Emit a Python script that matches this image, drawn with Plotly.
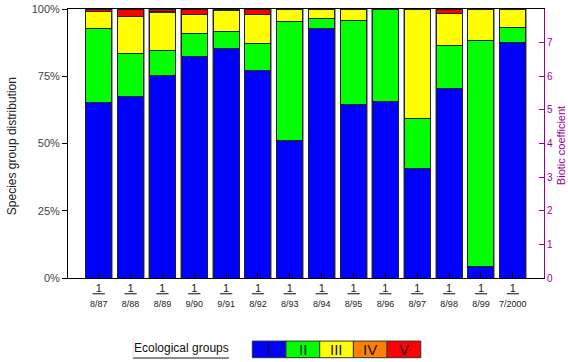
import plotly.graph_objects as go

dates = ["8/87", "8/88", "8/89", "9/90", "9/91", "8/92", "8/93", "8/94",
         "8/95", "8/96", "8/97", "8/98", "8/99", "7/2000"]
group_names = ["I", "II", "III", "IV", "V"]
group_colors = ["#0000FF", "#00FF00", "#FFFF00", "#FF8000", "#FF0000"]

g1 = [65.1, 67.4, 75.3, 82.4, 85.2, 77.3, 51.2, 92.7, 64.6, 65.5, 40.6, 70.6, 4.2, 87.6]
g2 = [27.6, 15.9, 9.4, 8.4, 6.6, 9.9, 44.2, 3.8, 31.3, 34.5, 18.6, 15.7, 84.1, 5.6]
g3 = [6.3, 13.8, 13.9, 7.3, 7.5, 10.6, 4.6, 3.5, 4.1, 0.0, 40.8, 12.1, 11.7, 6.8]
g4 = [0.0, 0.0, 0.4, 0.0, 0.7, 0.0, 0.0, 0.0, 0.0, 0.0, 0.0, 0.0, 0.0, 0.0]
g5 = [1.0, 2.9, 1.0, 1.9, 0.0, 2.2, 0.0, 0.0, 0.0, 0.0, 0.0, 1.6, 0.0, 0.0]
groups = [g1, g2, g3, g4, g5]

biotic = [0.69, 0.85, 0.63, 0.47, 0.37, 0.60, 0.83, 0.19, 0.60, 0.54, 1.51, 0.69, 1.60, 0.32]

x = list(range(len(dates)))
totals = [sum(v) for v in zip(*groups)]
ticktext = ["<u>&nbsp;1&nbsp;</u><br><span style='font-size:9px'>%s</span>" % d for d in dates]

fig = go.Figure()

# shadow bars behind
fig.add_trace(go.Bar(x=x, y=totals, width=0.88, marker=dict(color="#9a9a9a", line=dict(width=0)),
                     xaxis="x", yaxis="y", showlegend=False, hoverinfo="skip"))

for name, col, vals in zip(group_names, group_colors, groups):
    fig.add_trace(go.Bar(x=x, y=vals, name=name, width=0.816,
                         marker=dict(color=col, line=dict(color="#222222", width=1)),
                         xaxis="x", yaxis="y3", showlegend=False))

fig.add_trace(go.Scatter(x=x, y=biotic, mode="markers",
                         marker=dict(color="#7a0a7a", size=9.5, line=dict(color="#111111", width=1)),
                         xaxis="x", yaxis="y2", showlegend=False))

font_family = "Liberation Sans, Arial, sans-serif"

fig.update_layout(
    width=568, height=362,
    margin=dict(l=68, r=24, t=9, b=84.3),
    paper_bgcolor="white", plot_bgcolor="white",
    barmode="stack",
    font=dict(family=font_family, color="#333333"),
    xaxis=dict(range=[-0.964, 13.978], tickmode="array", tickvals=x, ticktext=ticktext,
               ticks="inside", ticklen=6, tickcolor="black", showgrid=False, zeroline=False,
               showline=True, linecolor="black", linewidth=1, mirror=True, automargin=False,
               tickfont=dict(size=11, color="#222222", family=font_family)),
    yaxis=dict(range=[0, 100], tickvals=[0, 25, 50, 75, 100],
               ticktext=["0%", "25%", "50%", "75%", "100%"],
               ticks="outside", ticklen=5, tickcolor="black", showgrid=False, zeroline=False,
               showline=True, linecolor="black", linewidth=1, automargin=False,
               tickfont=dict(size=11, color="#444444")),
    yaxis3=dict(range=[0, 100], overlaying="y", visible=False, automargin=False),
    yaxis2=dict(range=[0, 8], overlaying="y", side="right", tickvals=list(range(9)),
                ticktext=[str(i) for i in range(8)] + [""],
                ticks="inside", ticklen=5, tickcolor="#990099", showgrid=False, zeroline=False,
                showline=True, linecolor="#990099", linewidth=1, automargin=False,
                tickfont=dict(size=10, color="#990099")),
)

# custom legend & titles (pixel -> paper helpers)
px_w = 476.0
px_h = 268.7
def px(xp):
    return (xp - 68) / px_w
def py(yp):
    return (277.7 - yp) / px_h

fig.add_annotation(xref="paper", yref="paper", x=px(12), y=py(146), text="Species group distribution",
                   textangle=-90, showarrow=False, xanchor="center", yanchor="middle",
                   font=dict(size=12, color="#222222"))
fig.add_annotation(xref="paper", yref="paper", x=px(561), y=py(146), text="Biotic coefficient",
                   textangle=-90, showarrow=False, xanchor="center", yanchor="middle",
                   font=dict(size=11, color="#990099"))

box_w = 33.7
x_start = 252.3
for i, (name, col) in enumerate(zip(group_names, group_colors)):
    x0 = x_start + i * box_w
    fig.add_shape(type="rect", xref="paper", yref="paper",
                  x0=px(x0), x1=px(x0 + box_w), y0=py(357.3), y1=py(340.7),
                  fillcolor=col, line=dict(color="#333333", width=1))
    fig.add_annotation(xref="paper", yref="paper", x=px(x0 + box_w / 2), y=py(349),
                       text=name, showarrow=False, xanchor="center", yanchor="middle",
                       font=dict(size=15, color="#111111", family="Liberation Sans Narrow, Liberation Sans, Arial"))

fig.add_annotation(xref="paper", yref="paper", x=px(181), y=py(348),
                   text="Ecological groups", showarrow=False, xanchor="center", yanchor="middle",
                   font=dict(size=12, color="#111111"))
fig.add_shape(type="line", xref="paper", yref="paper", x0=px(133), x1=px(229), y0=py(357.5), y1=py(357.5),
              line=dict(color="#666666", width=1.5))
fig.add_shape(type="line", xref="paper", yref="paper", x0=px(133), x1=px(133), y0=py(357.5), y1=py(338),
              line=dict(color="#dddddd", width=1))

fig.write_html("out.html", config={"displayModeBar": False},
               post_script="document.body.style.margin='0';")
